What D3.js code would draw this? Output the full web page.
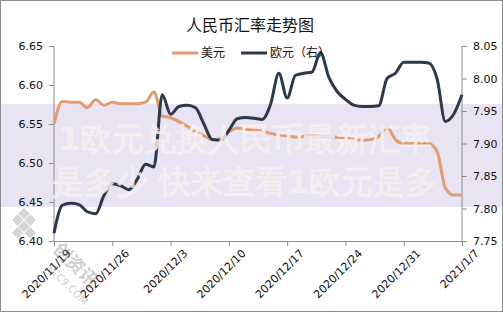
<!DOCTYPE html>
<html>
<head>
<meta charset="utf-8">
<script src="https://cdn.jsdelivr.net/npm/d3@7"></script>
<style>
  body { margin: 0; background: #fff; }
  #vis text { font-family: "DejaVu Sans", sans-serif; }
</style>
</head>
<body>
<div id="vis"></div>
<script>
const width = 503;
const height = 312;

// daily values from 2020/11/19 to 2021/1/7
const startDate = new Date(2020, 10, 19);
const endDate = new Date(2021, 0, 7);
const usd = [
  6.550, 6.579, 6.578, 6.578, 6.571, 6.581, 6.574, 6.578, 6.576, 6.576,
  6.576, 6.578, 6.591, 6.560, 6.558, 6.553, 6.547, 6.540, 6.535, 6.530,
  6.531, 6.540, 6.545, 6.543, 6.542, 6.541, 6.538, 6.536, 6.535, 6.533,
  6.534, 6.535, 6.534, 6.534, 6.533, 6.532, 6.530, 6.529, 6.530, 6.534,
  6.546, 6.530, 6.525, 6.525, 6.525, 6.525, 6.515, 6.468, 6.459, 6.459
];
const eur = [
  7.762, 7.805, 7.808, 7.806, 7.795, 7.792, 7.820, 7.838, 7.835, 7.829,
  7.845, 7.868, 7.864, 7.975, 7.945, 7.957, 7.959, 7.955, 7.930, 7.906,
  7.905, 7.920, 7.938, 7.940, 7.939, 7.937, 7.960, 8.008, 7.970, 8.005,
  8.008, 8.010, 8.040, 8.002, 7.980, 7.968, 7.959, 7.957, 7.957, 7.958,
  8.000, 8.008, 8.025, 8.025, 8.025, 8.024, 8.000, 7.934, 7.945, 7.975
];
const leftTicks = [6.40, 6.45, 6.50, 6.55, 6.60, 6.65];
const rightTicks = [7.75, 7.80, 7.85, 7.90, 7.95, 8.00, 8.05];
const seriesNames = ['美元', '欧元（右）'];
const colors = ['#E49B6D', '#2B3A4A'];

const dates = d3.timeDay.range(startDate, d3.timeDay.offset(endDate, 1));

const svg = d3.select('#vis')
  .append('svg')
  .attr('width', width)
  .attr('height', height);

const plot = { left: 54, right: 462, top: 46, bottom: 241 };

const x = d3.scaleTime().domain([startDate, endDate]).range([plot.left, plot.right]);
const yL = d3.scaleLinear().domain([6.40, 6.65]).range([plot.bottom, plot.top]);
const yR = d3.scaleLinear().domain([7.75, 8.05]).range([plot.bottom, plot.top]);

// frame
svg.append('rect')
  .attr('x', 0.5).attr('y', 0.5)
  .attr('width', width - 1).attr('height', height - 1)
  .attr('fill', '#fff').attr('stroke', '#8c8c8c');

// watermark band (behind lines)
svg.append('rect')
  .attr('x', 1).attr('y', 104)
  .attr('width', width - 2).attr('height', 103)
  .attr('fill', '#e8e4f3');

// axes
const axisL = svg.append('g')
  .attr('transform', `translate(${plot.left},0)`)
  .call(d3.axisLeft(yL).tickValues(leftTicks).tickFormat(d3.format('.2f')).tickSize(5).tickPadding(6));
const axisR = svg.append('g')
  .attr('transform', `translate(${plot.right},0)`)
  .call(d3.axisRight(yR).tickValues(rightTicks).tickFormat(d3.format('.2f')).tickSize(5).tickPadding(6));
const weekTicks = d3.timeDay.range(startDate, d3.timeDay.offset(endDate, 1), 7);
const axisB = svg.append('g')
  .attr('transform', `translate(0,${plot.bottom})`)
  .call(d3.axisBottom(x).tickValues(weekTicks).tickFormat(d3.timeFormat('%Y/%-m/%-d')).tickSize(5).tickSizeOuter(0));

[axisL, axisR, axisB].forEach(a => {
  a.select('.domain').attr('stroke', '#8c8c8c');
  a.selectAll('.tick line').attr('stroke', '#8c8c8c');
  a.selectAll('text').attr('fill', '#111').attr('font-size', 11);
});
axisL.select('.domain').attr('d', `M0,${plot.top}V${plot.bottom}`);
axisR.select('.domain').attr('d', `M0,${plot.top}V${plot.bottom}`);
axisB.selectAll('text')
  .attr('text-anchor', 'end')
  .attr('transform', 'translate(6,2) rotate(-45)')
  .attr('dy', '0.7em');

// lines
const lineL = d3.line().x((d, i) => x(dates[i])).y(d => yL(d)).curve(d3.curveMonotoneX);
const lineR = d3.line().x((d, i) => x(dates[i])).y(d => yR(d)).curve(d3.curveMonotoneX);

svg.append('path').datum(usd)
  .attr('d', lineL).attr('fill', 'none')
  .attr('stroke', colors[0]).attr('stroke-width', 3).attr('stroke-linejoin', 'round');
svg.append('path').datum(eur)
  .attr('d', lineR).attr('fill', 'none')
  .attr('stroke', colors[1]).attr('stroke-width', 3).attr('stroke-linejoin', 'round');

// title
svg.append('text')
  .attr('x', 250).attr('y', 31)
  .attr('text-anchor', 'middle')
  .style('font-family', '"Noto Sans CJK SC", sans-serif')
  .attr('font-size', 16)
  .attr('fill', '#111')
  .text('人民币汇率走势图');

// legend
const legendX = [172, 241];
seriesNames.forEach((name, i) => {
  const g = svg.append('g').attr('transform', `translate(${legendX[i]},53)`);
  g.append('line').attr('x1', 0).attr('x2', 26).attr('stroke', colors[i]).attr('stroke-width', 3);
  g.append('text').attr('x', 29).attr('dy', '0.35em')
    .style('font-family', '"Noto Sans CJK SC", sans-serif')
    .attr('font-size', 12).attr('fill', '#111').text(name);
});

// overlay text watermark
const wm = svg.append('g')
  .style('font-family', '"Noto Sans CJK SC", sans-serif')
  .attr('font-size', 32).attr('font-weight', 'bold')
  .attr('fill', '#f6f2f0').attr('opacity', 0.85);
wm.append('text').attr('x', 58).attr('y', 150).text('1欧元兑换人民币最新汇率');
wm.append('text').attr('x', 52).attr('y', 193).text('是多少 快来查看1欧元是多');

// logo watermark
const logo = svg.append('g').attr('opacity', 0.35);
[[0, 0], [1, 0], [0, 1], [1, 1], [2, 1], [1, 2]].forEach(([i, j]) => {
  logo.append('rect')
    .attr('width', 8).attr('height', 8)
    .attr('transform', `translate(24,208) rotate(45) translate(${i * 9},${j * 9})`)
    .attr('fill', '#888');
});
logo.append('text')
  .attr('transform', 'translate(52,250) rotate(45)')
  .style('font-family', '"Noto Sans CJK SC", sans-serif')
  .attr('font-size', 18).attr('font-weight', 'bold').attr('fill', '#777')
  .text('创资讯');
logo.append('text')
  .attr('transform', 'translate(46,268) rotate(45)')
  .attr('font-size', 10).attr('fill', '#777')
  .text('SCC9.COM');
</script>
</body>
</html>
